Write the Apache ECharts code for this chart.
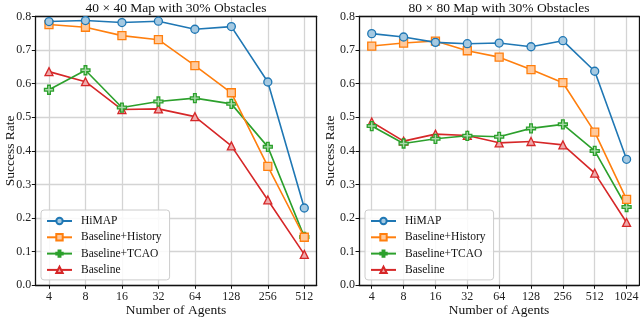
<!DOCTYPE html>
<html><head><meta charset="utf-8">
<script src="https://cdn.jsdelivr.net/npm/echarts@6/dist/echarts.min.js"></script>
<style>html,body{margin:0;padding:0;background:#fff}#c{width:640px;height:319px}</style>
</head><body><div id="c"></div>
<script>
const labelsA = ['4','8','16','32','64','128','256','512'];
const labelsB = ['4','8','16','32','64','128','256','512','1024'];
const seriesNames = ['HiMAP','Baseline+History','Baseline+TCAO','Baseline'];
const titleA = '40 × 40 Map with 30% Obstacles';
const titleB = '80 × 80 Map with 30% Obstacles';

const himapA   = [0.785,0.788,0.782,0.786,0.762,0.770,0.605,0.230];
const historyA = [0.776,0.768,0.743,0.731,0.654,0.573,0.354,0.143];
const tcaoA    = [0.582,0.640,0.529,0.547,0.557,0.540,0.412,0.144];
const baseA    = [0.636,0.606,0.523,0.525,0.502,0.415,0.254,0.092];

const himapB   = [0.749,0.739,0.723,0.719,0.721,0.710,0.728,0.637,0.375];
const historyB = [0.712,0.721,0.727,0.698,0.679,0.642,0.603,0.456,0.256];
const tcaoB    = [0.474,0.422,0.436,0.445,0.442,0.467,0.479,0.400,0.233];
const baseB    = [0.486,0.429,0.450,0.446,0.424,0.428,0.418,0.334,0.187];

const colors = ['#1f77b4','#ff7f0e','#2ca02c','#d62728'];
const fills  = ['#a5c9e1','#ffc99b','#a9d9a9','#efa9aa'];
const plusPath = 'path://M3.5,0h3v3.5h3.5v3h-3.5v3.5h-3v-3.5h-3.5v-3h3.5z';
const symbols = ['circle','rect',plusPath,'triangle'];
const sizes = [8,8,9,8];
const font = 'Liberation Serif';

const chart = echarts.init(document.getElementById('c'), null, {renderer:'canvas'});

function mkX(gi, labels, min, max){
  const idx = labels.map((_,i)=>i);
  return {
    type:'value', gridIndex:gi, min:min, max:max,
    name:'Number of Agents', nameLocation:'middle', nameGap:18.5, nameMoveOverlap:false,
    nameTextStyle:{fontFamily:font,fontSize:13.5,color:'#111'},
    axisLine:{show:true,onZero:false,lineStyle:{color:'#111',width:1.3}},
    axisTick:{show:true,inside:false,length:3.5,lineStyle:{color:'#111',width:1},customValues:idx},
    axisLabel:{fontFamily:font,fontSize:12,color:'#222',margin:6,customValues:idx,
      formatter:v=>labels[Math.round(v)]},
    splitLine:{show:true,lineStyle:{color:'#d4d4d4',width:1.3}}
  };
}
function mkXTop(gi,min,max){
  return {type:'value',gridIndex:gi,position:'top',min:min,max:max,
    axisLine:{show:true,onZero:false,lineStyle:{color:'#111',width:1.3}},
    axisTick:{show:false},axisLabel:{show:false},splitLine:{show:false}};
}
function mkY(gi, gap){
  return {
    type:'value', gridIndex:gi, min:0, max:0.8, interval:0.1,
    name:'Success Rate', nameLocation:'middle', nameGap:gap, nameRotate:90, nameMoveOverlap:false,
    nameTextStyle:{fontFamily:font,fontSize:13.5,color:'#111'},
    axisLine:{show:true,onZero:false,lineStyle:{color:'#111',width:1.3}},
    axisTick:{show:true,length:3.5,lineStyle:{color:'#111',width:1}},
    axisLabel:{fontFamily:font,fontSize:12,color:'#222',margin:4,formatter:v=>v.toFixed(1)},
    splitLine:{show:true,lineStyle:{color:'#d4d4d4',width:1.3}}
  };
}
function mkYRight(gi){
  return {type:'value',gridIndex:gi,position:'right',min:0,max:0.8,interval:0.1,
    axisLine:{show:true,onZero:false,lineStyle:{color:'#111',width:1.3}},
    axisTick:{show:false},axisLabel:{show:false},splitLine:{show:false}};
}

const dataA = [himapA,historyA,tcaoA,baseA];
const dataB = [himapB,historyB,tcaoB,baseB];
const series = [];
function addSeries(datasets, xi, yi){
  datasets.forEach((d,k)=>{
    series.push({
      type:'line', name:seriesNames[k], xAxisIndex:xi, yAxisIndex:yi,
      data:d.map((v,i)=>[i,v]),
      symbol:symbols[k], symbolSize:sizes[k], showSymbol:true,
      lineStyle:{color:colors[k],width:1.6},
      itemStyle:{color:fills[k],borderColor:colors[k],borderWidth:1.3},
      z:10-k, animation:false
    });
  });
}
addSeries(dataA,0,0);
addSeries(dataB,2,2);

function mkLegend(left){
  return {
    left:left, top:210, orient:'vertical',
    data:seriesNames.map(n=>({name:n})),
    itemWidth:25, itemHeight:8, itemGap:4.3,
    padding:[5,8,4,5],
    backgroundColor:'rgba(255,255,255,0.85)',
    borderColor:'#cccccc', borderWidth:1, borderRadius:3,
    textStyle:{fontFamily:font,fontSize:11.5,lineHeight:12,height:12,color:'#111',padding:[0,0,0,4]},
    selectedMode:false
  };
}

chart.setOption({
  animation:false,
  title:[
    {text:titleA,left:176,top:1,padding:0,textAlign:'center',textStyle:{fontFamily:font,fontSize:13.5,fontWeight:'normal',color:'#111'}},
    {text:titleB,left:499,top:1,padding:0,textAlign:'center',textStyle:{fontFamily:font,fontSize:13.5,fontWeight:'normal',color:'#111'}}
  ],
  grid:[
    {left:35.3,top:16.5,width:281.4,height:268.8,containLabel:false,outerBoundsMode:'none'},
    {left:359,top:16.5,width:280,height:268.8,containLabel:false,outerBoundsMode:'none'}
  ],
  legend:[mkLegend(41),mkLegend(365)],
  xAxis:[mkX(0,labelsA,-0.375,7.34),mkXTop(0,-0.375,7.34),mkX(1,labelsB,-0.4,8.39),mkXTop(1,-0.4,8.39)],
  yAxis:[mkY(0,18),mkYRight(0),mkY(1,22),mkYRight(1)],
  series:series
});
</script></body></html>
